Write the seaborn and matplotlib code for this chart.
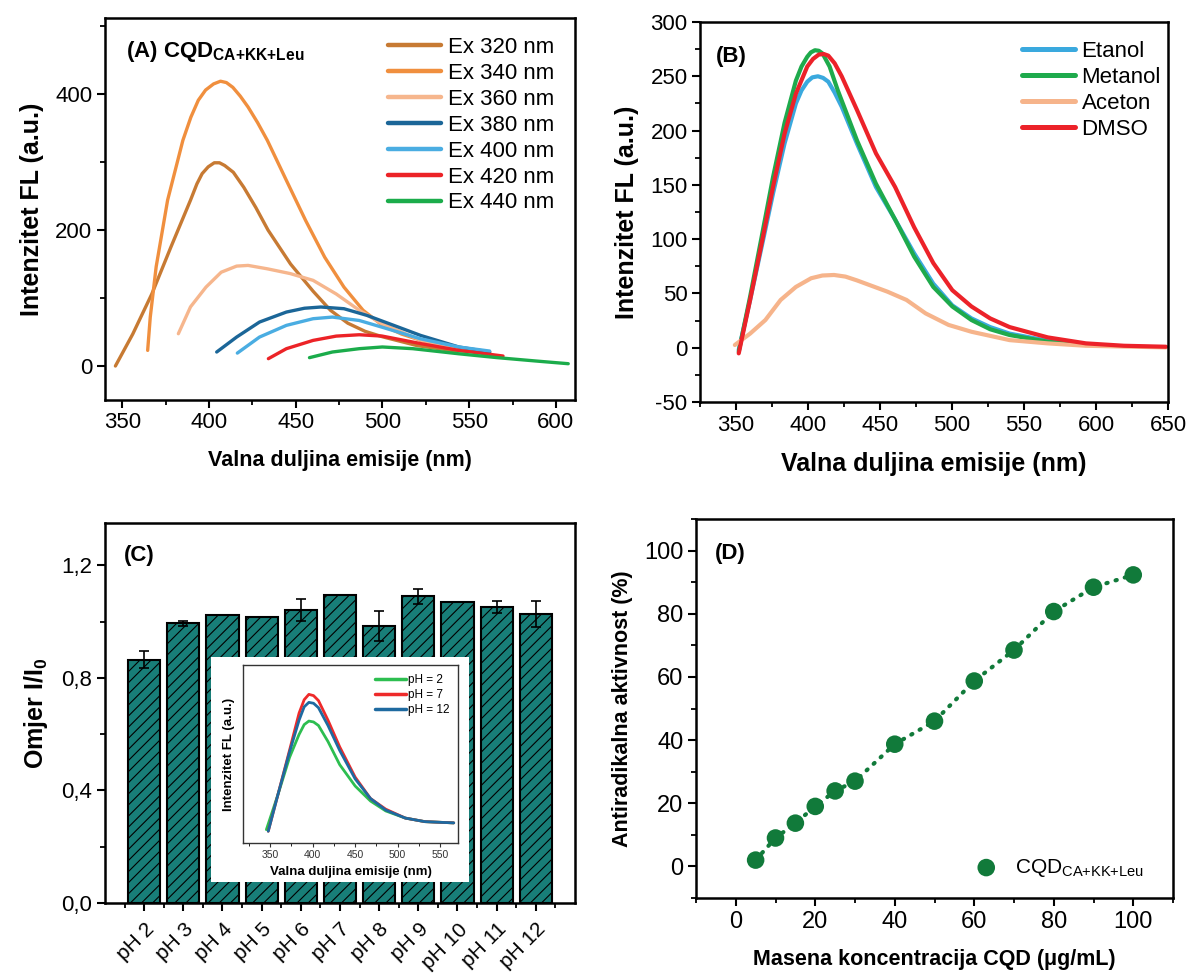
import numpy as np
import pandas as pd
import matplotlib
matplotlib.use("Agg")
import matplotlib.pyplot as plt
import seaborn as sns
from matplotlib.ticker import MultipleLocator, FuncFormatter, FixedLocator, NullLocator
from matplotlib.patches import Rectangle

# ---------------- Panel A data ----------------
a_labels = ["Ex 320 nm", "Ex 340 nm", "Ex 360 nm", "Ex 380 nm", "Ex 400 nm", "Ex 420 nm", "Ex 440 nm"]
a_colors = ["#C77A33", "#F08F3E", "#F6B68D", "#1B6698", "#4AADE2", "#EC2327", "#1BAC4B"]
ex320_nm = [346, 356, 367, 378, 389.3, 393, 396, 399.5, 403, 406, 409, 414, 420, 427, 434, 447, 460, 470, 480, 490, 500, 520, 540, 561]
ex320_v = [0, 47, 106, 175, 244, 268, 283, 293, 299, 299, 295, 285, 263, 233, 200, 150, 110, 82, 63, 51, 43, 30, 23, 20]
ex340_nm = [364.6, 366.1, 369.5, 376.1, 384.9, 389.5, 393.8, 398, 402.6, 406.6, 410, 413.7, 418, 422.5, 428, 433.6, 444.6, 455.7, 466.7, 477.8, 488.8, 499.9, 511, 522, 544, 561.8]
ex340_v = [23, 72, 146, 244, 332, 366, 391, 406, 415, 419, 417, 410, 397, 381, 358, 332, 273, 214, 160, 116, 82, 60, 47, 38, 25.5, 20.6]
ex360_nm = [382.3, 389.3, 398.2, 407, 415.9, 422.5, 433.6, 446.8, 460, 473.3, 486.6, 499.9, 522, 544, 561.8]
ex360_v = [47.5, 87, 116, 138, 147, 148, 143, 136, 126, 106, 82, 62, 38, 25.5, 20.6]
ex380_nm = [404.4, 415.9, 429.1, 444.6, 455, 464.5, 477.8, 491, 506.5, 522, 544, 561.8]
ex380_v = [20.6, 42.6, 64.7, 79.4, 85, 86.8, 84.3, 74.5, 59.8, 45, 28, 20.6]
ex400_nm = [416.3, 429.1, 444.6, 460, 471.1, 486.6, 499.9, 522, 544, 561.8]
ex400_v = [19, 42.6, 59.8, 69.6, 72, 67, 57, 40, 28, 22]
ex420_nm = [434.2, 444.6, 460, 473.3, 486.6, 499.9, 522, 544, 569.5]
ex420_v = [10.8, 25.5, 37.7, 44, 46, 44, 33, 23, 14.7]
ex440_nm = [457.9, 471.1, 486.6, 499.9, 517.5, 544, 566.2, 588.3, 607.1]
ex440_v = [12.3, 20.6, 25.5, 28, 25.5, 18, 12.3, 7.4, 3.4]

# ---------------- Panel B data ----------------
b_labels = ["Etanol", "Metanol", "Aceton", "DMSO"]
b_colors = ["#3AA9DE", "#1EAA4C", "#F6B48B", "#EC2229"]
etanol_nm = [351.9, 359.8, 367.8, 375.7, 383.7, 391.6, 395.5, 399.5, 403, 406.9, 410.5, 414.1, 418.5, 423.4, 434, 447.2, 460.5, 473.7, 487, 500.2, 513.5, 526.5, 540, 566.5, 593]
etanol_v = [-2, 44, 93, 142, 188, 225, 237, 245, 249, 250, 248.5, 245, 235, 222, 188, 148, 118, 87, 59, 39, 27, 19, 13, 6.4, 3]
metanol_nm = [351.9, 359.8, 367.8, 375.7, 383.7, 391.6, 395.5, 399.5, 402, 404.8, 407.5, 410.1, 415, 420.7, 434, 447.2, 460.5, 473.7, 487, 500.2, 513.5, 526.5, 540, 566.5, 593]
metanol_v = [-3.7, 47, 102, 157, 207, 246, 259, 268, 272, 274, 273.5, 271, 259, 237, 191, 151, 118, 84, 56, 38, 25.5, 17, 11.7, 5.5, 2.5]
aceton_nm = [349.2, 359.8, 370.4, 381, 391.6, 402.2, 410, 418.1, 426, 434, 455.2, 468.4, 481.7, 497.6, 513.5, 540, 566.5, 593, 648.6]
aceton_v = [2.5, 13, 25.5, 44, 56, 64, 66.5, 67, 65.5, 62, 51.6, 44, 31.6, 21, 14.7, 7, 4, 1.8, 0.3]
dmso_nm = [351.9, 359.8, 367.8, 375.7, 383.7, 391.6, 399.5, 403.5, 407.5, 411, 414.1, 418.5, 423.4, 434, 447.2, 460.5, 473.7, 487, 500.2, 513.5, 526.5, 540, 566.5, 593, 619.5, 648.6]
dmso_v = [-5.2, 44, 96, 148, 197, 234, 259, 266, 270, 270.5, 269, 262, 250, 219, 179, 148, 111, 78, 53, 38, 27, 19, 9.5, 4, 1.8, 0.9]

# ---------------- Panel C data ----------------
c_categories = ["pH 2", "pH 3", "pH 4", "pH 5", "pH 6", "pH 7", "pH 8", "pH 9", "pH 10", "pH 11", "pH 12"]
c_ratio = [0.865, 0.993, 1.022, 1.017, 1.041, 1.094, 0.985, 1.090, 1.071, 1.052, 1.027]
c_err = [0.030, 0.010, 0.0, 0.0, 0.040, 0.0, 0.053, 0.026, 0.0, 0.020, 0.047]

# inset
inset_labels = ["pH = 2", "pH = 7", "pH = 12"]
inset_colors = ["#2DBE50", "#EE2A2A", "#1E6AA0"]
ph2_nm = [345.5, 359, 372.7, 384, 390, 395.5, 401, 406.8, 418, 431.8, 450, 468, 486, 509, 532, 566]
ph2_v = [0.075, 0.27, 0.48, 0.61, 0.665, 0.685, 0.68, 0.66, 0.57, 0.44, 0.32, 0.236, 0.18, 0.14, 0.12, 0.113]
ph7_nm = [347.7, 359, 372.7, 384, 390, 395.5, 401, 406.8, 418, 431.8, 450, 468, 486, 509, 532, 566]
ph7_v = [0.066, 0.27, 0.52, 0.73, 0.805, 0.835, 0.828, 0.80, 0.69, 0.54, 0.37, 0.25, 0.19, 0.14, 0.12, 0.113]
ph12_nm = [347.7, 359, 372.7, 384, 390, 395.5, 401, 406.8, 418, 431.8, 450, 468, 486, 509, 532, 566]
ph12_v = [0.066, 0.27, 0.51, 0.69, 0.765, 0.79, 0.785, 0.76, 0.66, 0.52, 0.36, 0.25, 0.185, 0.14, 0.12, 0.113]

# ---------------- Panel D data ----------------
d_conc = [5, 10, 15, 20, 25, 30, 40, 50, 60, 70, 80, 90, 100]
d_activity = [2.0, 9.0, 13.7, 19.0, 23.9, 27.0, 38.7, 46.0, 58.7, 68.5, 80.7, 88.4, 92.3]

# ---------------- style ----------------
sns.set_theme(style="ticks")
plt.rcParams["font.family"] = ["Liberation Sans", "DejaVu Sans"]
plt.rcParams["mathtext.default"] = "regular"
plt.rcParams["axes.unicode_minus"] = False
plt.rcParams["hatch.color"] = "#0b3a36"
plt.rcParams["hatch.linewidth"] = 0.8
for k in ["text.color", "axes.labelcolor", "xtick.color", "ytick.color", "axes.edgecolor"]:
    plt.rcParams[k] = "black"

fig = plt.figure(figsize=(11.89, 9.74), dpi=100)
W, H = 1189, 974


def add_ax(l, t, r, b):
    return fig.add_axes([l / W, 1 - b / H, (r - l) / W, (b - t) / H])


def style_ax(ax, fs=16):
    for s in ax.spines.values():
        s.set_visible(True)
        s.set_linewidth(1.8)
        s.set_color("black")
    ax.tick_params(which="major", direction="out", length=6, width=1.5, labelsize=fs, colors="black", pad=3)
    ax.tick_params(which="minor", direction="out", length=3.5, width=1.3)
    ax.set_facecolor("white")


def long_df(names, xs, ys):
    frames = []
    for n, x, y in zip(names, xs, ys):
        frames.append(pd.DataFrame({"nm": x, "val": y, "series": n}))
    return pd.concat(frames, ignore_index=True)


SUB = "$_{CA{+}KK{+}Leu}$"

# ---------------- Panel A ----------------
axA = add_ax(105, 18, 575, 400)
dfA = long_df(a_labels,
              [ex320_nm, ex340_nm, ex360_nm, ex380_nm, ex400_nm, ex420_nm, ex440_nm],
              [ex320_v, ex340_v, ex360_v, ex380_v, ex400_v, ex420_v, ex440_v])
sns.lineplot(data=dfA, x="nm", y="val", hue="series", hue_order=a_labels, palette=a_colors,
             sort=False, estimator=None, linewidth=2.4, ax=axA, legend=False)
for ln in axA.lines:
    ln.set_solid_joinstyle("round")
axA.set_xlim(340, 611)
axA.set_ylim(-50, 512)
axA.xaxis.set_major_locator(MultipleLocator(50))
axA.xaxis.set_minor_locator(MultipleLocator(25))
axA.yaxis.set_major_locator(MultipleLocator(200))
axA.yaxis.set_minor_locator(MultipleLocator(100))
style_ax(axA)
axA.set_xlabel("Valna duljina emisije (nm)", fontsize=15.5, fontweight="bold", labelpad=12)
axA.set_ylabel("Intenzitet FL (a.u.)", fontsize=18, fontweight="bold", labelpad=8)
axA.text(0.044, 0.911, "(A) CQD" + SUB, transform=axA.transAxes, fontsize=16,
         fontweight="bold", va="center", ha="left")
axA.legend(handles=axA.lines, labels=a_labels, loc="upper right", bbox_to_anchor=(0.955, 0.95),
           frameon=False, fontsize=16, handlelength=2.4, handletextpad=0.3, labelspacing=0.22,
           borderaxespad=0, borderpad=0)
for h in axA.get_legend().get_lines():
    h.set_linewidth(3.2)

# ---------------- Panel B ----------------
axB = add_ax(700, 22, 1168, 402)
dfB = long_df(b_labels, [etanol_nm, metanol_nm, aceton_nm, dmso_nm], [etanol_v, metanol_v, aceton_v, dmso_v])
sns.lineplot(data=dfB, x="nm", y="val", hue="series", hue_order=b_labels, palette=b_colors,
             sort=False, estimator=None, linewidth=3.0, ax=axB, legend=False)
for ln in axB.lines:
    ln.set_solid_joinstyle("round")
axB.set_xlim(325, 650)
axB.set_ylim(-50, 300)
axB.xaxis.set_major_locator(MultipleLocator(50))
axB.xaxis.set_minor_locator(MultipleLocator(25))
axB.yaxis.set_major_locator(MultipleLocator(50))
axB.yaxis.set_minor_locator(MultipleLocator(25))
style_ax(axB)
axB.set_xlabel("Valna duljina emisije (nm)", fontsize=18, fontweight="bold", labelpad=12)
axB.set_ylabel("Intenzitet FL (a.u.)", fontsize=18, fontweight="bold", labelpad=8)
axB.text(0.034, 0.908, "(B)", transform=axB.transAxes, fontsize=16, fontweight="bold", va="center", ha="left")
axB.legend(handles=axB.lines, labels=b_labels, loc="upper right", bbox_to_anchor=(0.985, 0.95),
           frameon=False, fontsize=16, handlelength=2.4, handletextpad=0.3, labelspacing=0.22,
           borderaxespad=0, borderpad=0)
for h in axB.get_legend().get_lines():
    h.set_linewidth(3.6)

# ---------------- Panel C ----------------
axC = add_ax(105, 523, 575, 903)
dfC = pd.DataFrame({"cat": c_categories, "ratio": c_ratio, "err": c_err})
sns.barplot(data=dfC, x="cat", y="ratio", order=c_categories, color="#187E78", saturation=1,
            width=0.82, edgecolor="black", linewidth=1.5, errorbar=None, ax=axC)
for p in axC.patches:
    p.set_hatch("///")
axC.errorbar(np.arange(len(c_categories)), dfC["ratio"], yerr=dfC["err"], fmt="none",
             ecolor="black", elinewidth=1.2, capsize=3.5, capthick=1.2, zorder=5)
axC.set_xlim(-1, 11)
axC.set_ylim(0, 1.35)
axC.yaxis.set_major_locator(MultipleLocator(0.4))
axC.yaxis.set_minor_locator(MultipleLocator(0.2))
axC.yaxis.set_major_formatter(FuncFormatter(lambda v, p: f"{v:.1f}".replace(".", ",")))
axC.xaxis.set_minor_locator(FixedLocator(np.arange(-0.5, 11, 1)))
style_ax(axC)
axC.tick_params(axis="x", which="major", labelsize=15, pad=6)
for lab in axC.get_xticklabels():
    lab.set_rotation(45)
    lab.set_ha("right")
    lab.set_rotation_mode("anchor")
axC.set_xlabel("")
axC.set_ylabel("Omjer I/I$_0$", fontsize=18, fontweight="bold", labelpad=8)
axC.text(0.04, 0.915, "(C)", transform=axC.transAxes, fontsize=16, fontweight="bold", va="center", ha="left")

# inset white background
fig.patches.append(Rectangle((211 / W, 1 - 882 / H), 258 / W, 225 / H, transform=fig.transFigure,
                             facecolor="white", edgecolor="none", zorder=10))
axI = add_ax(243, 665, 458, 843)
axI.set_zorder(11)
dfI = long_df(inset_labels, [ph2_nm, ph7_nm, ph12_nm], [ph2_v, ph7_v, ph12_v])
sns.lineplot(data=dfI, x="nm", y="val", hue="series", hue_order=inset_labels, palette=inset_colors,
             sort=False, estimator=None, linewidth=2.0, ax=axI, legend=False)
for ln in axI.lines:
    ln.set_solid_joinstyle("round")
axI.set_xlim(318, 571)
axI.set_ylim(0, 1)
axI.xaxis.set_major_locator(MultipleLocator(50))
axI.xaxis.set_minor_locator(MultipleLocator(25))
axI.yaxis.set_major_locator(NullLocator())
for s in axI.spines.values():
    s.set_linewidth(1.0)
    s.set_color("#333333")
axI.tick_params(which="major", direction="out", length=3, width=0.8, labelsize=7.5, colors="#333333", pad=2)
axI.tick_params(which="minor", direction="out", length=2, width=0.6)
axI.set_xlabel("Valna duljina emisije (nm)", fontsize=9.5, fontweight="bold", labelpad=4)
axI.set_ylabel("Intenzitet FL (a.u.)", fontsize=9.5, fontweight="bold", labelpad=6)
axI.legend(handles=axI.lines, labels=inset_labels, loc="upper right", bbox_to_anchor=(0.96, 0.95),
           frameon=False, fontsize=8.5, handlelength=2.6, handletextpad=0.15, labelspacing=0.25,
           borderaxespad=0, borderpad=0)
for h in axI.get_legend().get_lines():
    h.set_linewidth(2.5)

# ---------------- Panel D ----------------
axD = add_ax(696, 519, 1173, 898)
dfD = pd.DataFrame({"conc": d_conc, "act": d_activity})
sns.lineplot(data=dfD, x="conc", y="act", color="#117A3A", linewidth=3, dashes=False, ax=axD, legend=False)
axD.lines[0].set_linestyle((0, (0.3, 2.0)))
axD.lines[0].set_dash_capstyle("round")
sns.scatterplot(data=dfD, x="conc", y="act", color="#117A3A", s=160, edgecolor="none", ax=axD,
                label="CQD" + SUB, zorder=4)
axD.set_xlim(-10, 110)
axD.set_ylim(-10, 110)
axD.xaxis.set_major_locator(MultipleLocator(20))
axD.xaxis.set_minor_locator(MultipleLocator(10))
axD.yaxis.set_major_locator(MultipleLocator(20))
axD.yaxis.set_minor_locator(MultipleLocator(10))
style_ax(axD, fs=17)
axD.set_xlabel("Masena koncentracija CQD (\u03bcg/mL)", fontsize=15.5, fontweight="bold", labelpad=12)
axD.set_ylabel("Antiradikalna aktivnost (%)", fontsize=15.5, fontweight="bold", labelpad=8)
axD.text(0.04, 0.91, "(D)", transform=axD.transAxes, fontsize=16, fontweight="bold", va="center", ha="left")
axD.legend(loc="lower right", bbox_to_anchor=(0.94, 0.05), frameon=False, fontsize=15,
           handletextpad=0.4, borderaxespad=0, borderpad=0, markerscale=1.0)

fig.savefig("out.png", dpi=100, facecolor="white")
